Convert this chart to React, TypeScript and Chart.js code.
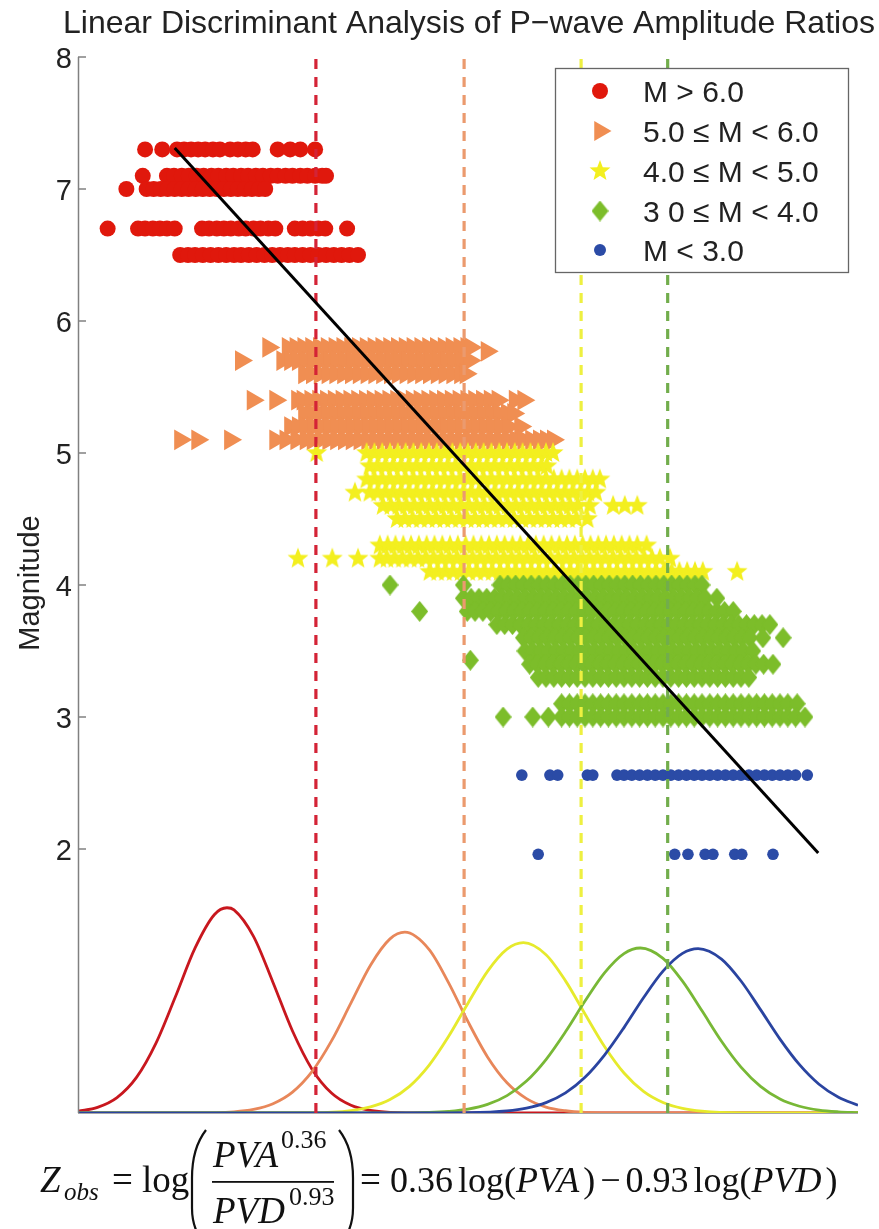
import React, { useEffect, useRef } from 'react';
import { Chart, registerables } from 'chart.js';

Chart.register(...registerables);

const W = 879;
const H = 1229;

const chartTitle = 'Linear Discriminant Analysis of P\u2212wave Amplitude Ratios';
const yAxisTitle = 'Magnitude';
const magnitudeTicks = [2, 3, 4, 5, 6, 7, 8];
const classLabels = ['M > 6.0', '5.0 \u2264 M < 6.0', '4.0 \u2264 M < 5.0', '3 0 \u2264 M < 4.0', 'M < 3.0'];

// Scatter rows: magnitude m, discriminant scores z
const redRows = [
  { m: 7.3, z: [0.86, 1.08, 1.27, 1.36, 1.45, 1.54, 1.63, 1.73, 1.82, 1.95, 2.05, 2.15, 2.24, 2.56, 2.72, 2.85, 3.04] },
  { m: 7.1, z: [0.83, 1.14, 1.23, 1.33, 1.42, 1.52, 1.61, 1.71, 1.8, 1.9, 1.99, 2.09, 2.18, 2.28, 2.37, 2.47, 2.56, 2.66, 2.75, 2.85, 2.94, 3.04, 3.13, 3.18] },
  { m: 7.0, z: [0.62, 0.88, 0.97, 1.06, 1.15, 1.24, 1.33, 1.42, 1.51, 1.6, 1.69, 1.78, 1.87, 1.96, 2.05, 2.14, 2.23, 2.32, 2.4] },
  { m: 6.7, z: [0.38, 0.77, 0.86, 0.96, 1.05, 1.14, 1.24, 1.59, 1.68, 1.78, 1.87, 1.96, 2.06, 2.15, 2.25, 2.34, 2.44, 2.53, 2.78, 2.88, 2.98, 3.08, 3.17, 3.45] },
  { m: 6.5, z: [1.31, 1.41, 1.5, 1.6, 1.7, 1.8, 1.9, 2.0, 2.09, 2.19, 2.29, 2.39, 2.49, 2.59, 2.69, 2.78, 2.88, 2.98, 3.08, 3.18, 3.28, 3.38, 3.48, 3.59] },
];

const orangeRows = [
  { m: 5.8, z: [2.44, 2.69, 2.79, 2.89, 2.99, 3.09, 3.19, 3.29, 3.39, 3.49, 3.59, 3.69, 3.79, 3.89, 3.99, 4.09, 4.19, 4.29, 4.39, 4.49, 4.59, 4.69, 4.79, 4.89, 4.98, 5.03] },
  { m: 5.77, z: [5.24] },
  { m: 5.7, z: [2.09, 2.62, 2.72, 2.82, 2.92, 3.02, 3.12, 3.22, 3.32, 3.42, 3.52, 3.62, 3.72, 3.82, 3.92, 4.02, 4.12, 4.22, 4.32, 4.42, 4.52, 4.62, 4.72, 4.82, 4.92, 5.02] },
  { m: 5.6, z: [2.9, 3.0, 3.1, 3.2, 3.3, 3.4, 3.5, 3.6, 3.7, 3.8, 3.9, 4.0, 4.1, 4.2, 4.3, 4.4, 4.5, 4.6, 4.7, 4.8, 4.9, 4.97] },
  { m: 5.4, z: [2.24, 2.53, 2.81, 2.88, 2.98, 3.08, 3.18, 3.28, 3.38, 3.48, 3.58, 3.68, 3.78, 3.88, 3.98, 4.08, 4.18, 4.28, 4.38, 4.48, 4.58, 4.68, 4.78, 4.88, 4.98, 5.08, 5.18, 5.28, 5.38, 5.6, 5.71] },
  { m: 5.3, z: [2.9, 3.0, 3.1, 3.2, 3.3, 3.4, 3.5, 3.6, 3.7, 3.8, 3.9, 4.0, 4.1, 4.2, 4.3, 4.4, 4.5, 4.6, 4.7, 4.8, 4.9, 5.0, 5.1, 5.2, 5.3, 5.4, 5.5, 5.58] },
  { m: 5.2, z: [2.72, 2.82, 2.92, 3.02, 3.12, 3.22, 3.32, 3.42, 3.52, 3.62, 3.72, 3.82, 3.92, 4.02, 4.12, 4.22, 4.32, 4.42, 4.52, 4.62, 4.72, 4.82, 4.92, 5.02, 5.12, 5.22, 5.32, 5.42, 5.52, 5.67] },
  { m: 5.1, z: [1.31, 1.53, 1.95, 2.53, 2.66, 2.8, 2.92, 3.01, 3.11, 3.21, 3.31, 3.41, 3.51, 3.61, 3.71, 3.81, 3.91, 4.01, 4.11, 4.21, 4.31, 4.41, 4.51, 4.61, 4.71, 4.81, 4.91, 5.01, 5.11, 5.21, 5.31, 5.41, 5.51, 5.61, 5.71, 5.81, 5.91, 6.0, 6.09] },
];

const yellowRows = [
  { m: 5.0, z: [3.06, 3.7, 3.8, 3.9, 4.0, 4.1, 4.2, 4.3, 4.4, 4.5, 4.6, 4.7, 4.8, 4.9, 5.0, 5.1, 5.2, 5.3, 5.4, 5.5, 5.6, 5.7, 5.8, 5.9, 6.0, 6.09] },
  { m: 4.9, z: [3.74, 3.84, 3.94, 4.04, 4.14, 4.24, 4.34, 4.44, 4.54, 4.64, 4.74, 4.84, 4.94, 5.04, 5.14, 5.24, 5.34, 5.44, 5.54, 5.64, 5.74, 5.84, 5.94, 6.01] },
  { m: 4.8, z: [3.7, 3.8, 3.9, 4.0, 4.1, 4.2, 4.3, 4.4, 4.5, 4.6, 4.7, 4.8, 4.9, 5.0, 5.1, 5.2, 5.3, 5.4, 5.5, 5.6, 5.7, 5.8, 5.9, 6.0, 6.1, 6.2, 6.3, 6.4, 6.5, 6.6, 6.69] },
  { m: 4.7, z: [3.55, 3.74, 3.84, 3.94, 4.04, 4.14, 4.24, 4.34, 4.44, 4.54, 4.64, 4.74, 4.84, 4.94, 5.04, 5.14, 5.24, 5.34, 5.44, 5.54, 5.64, 5.74, 5.84, 5.94, 6.04, 6.14, 6.24, 6.34, 6.44, 6.54, 6.64] },
  { m: 4.6, z: [3.91, 4.01, 4.11, 4.21, 4.31, 4.41, 4.51, 4.61, 4.71, 4.81, 4.91, 5.01, 5.11, 5.21, 5.31, 5.41, 5.51, 5.61, 5.71, 5.81, 5.91, 6.01, 6.11, 6.21, 6.31, 6.41, 6.56, 6.86, 7.01, 7.17] },
  { m: 4.5, z: [4.09, 4.19, 4.29, 4.39, 4.49, 4.59, 4.69, 4.79, 4.89, 4.99, 5.09, 5.19, 5.29, 5.39, 5.49, 5.59, 5.69, 5.79, 5.89, 5.99, 6.09, 6.19, 6.29, 6.39, 6.53] },
  { m: 4.3, z: [3.87, 3.97, 4.07, 4.17, 4.27, 4.37, 4.47, 4.57, 4.67, 4.77, 4.87, 4.97, 5.07, 5.17, 5.27, 5.37, 5.47, 5.57, 5.67, 5.77, 5.87, 5.97, 6.07, 6.17, 6.27, 6.37, 6.47, 6.57, 6.67, 6.77, 6.87, 6.97, 7.07, 7.17, 7.29] },
  { m: 4.2, z: [2.82, 3.26, 3.59, 3.87, 3.96, 4.06, 4.16, 4.26, 4.36, 4.46, 4.56, 4.66, 4.76, 4.86, 4.96, 5.06, 5.16, 5.26, 5.36, 5.46, 5.56, 5.66, 5.76, 5.86, 5.96, 6.06, 6.16, 6.26, 6.36, 6.46, 6.56, 6.66, 6.76, 6.86, 6.96, 7.06, 7.16, 7.26, 7.36, 7.46, 7.59] },
  { m: 4.1, z: [4.51, 4.61, 4.71, 4.81, 4.91, 5.01, 5.11, 5.21, 5.31, 5.41, 5.51, 5.61, 5.71, 5.81, 5.91, 6.01, 6.11, 6.21, 6.31, 6.41, 6.51, 6.61, 6.71, 6.81, 6.91, 7.01, 7.11, 7.21, 7.31, 7.41, 7.51, 7.61, 7.71, 7.81, 7.91, 8.01, 8.45] },
];

const greenRows = [
  { m: 4.0, z: [4.0, 4.94, 5.41, 5.51, 5.61, 5.71, 5.81, 5.91, 6.01, 6.11, 6.21, 6.31, 6.41, 6.51, 6.61, 6.71, 6.81, 6.91, 7.01, 7.11, 7.21, 7.31, 7.41, 7.51, 7.61, 7.71, 7.81, 7.91, 8.0] },
  { m: 3.9, z: [4.94, 5.04, 5.14, 5.24, 5.34, 5.44, 5.54, 5.64, 5.74, 5.84, 5.94, 6.04, 6.14, 6.24, 6.34, 6.44, 6.54, 6.64, 6.74, 6.84, 6.94, 7.04, 7.14, 7.24, 7.34, 7.44, 7.54, 7.64, 7.74, 7.84, 7.94, 8.04, 8.19] },
  { m: 3.8, z: [4.38, 4.99, 5.09, 5.19, 5.29, 5.39, 5.49, 5.59, 5.69, 5.79, 5.89, 5.99, 6.09, 6.19, 6.29, 6.39, 6.49, 6.59, 6.69, 6.79, 6.89, 6.99, 7.09, 7.19, 7.29, 7.39, 7.49, 7.59, 7.69, 7.79, 7.89, 7.99, 8.09, 8.19, 8.29, 8.4] },
  { m: 3.7, z: [5.37, 5.47, 5.57, 5.67, 5.77, 5.87, 5.97, 6.07, 6.17, 6.27, 6.37, 6.47, 6.57, 6.67, 6.77, 6.87, 6.97, 7.07, 7.17, 7.27, 7.37, 7.47, 7.57, 7.67, 7.77, 7.87, 7.97, 8.07, 8.17, 8.27, 8.37, 8.47, 8.57, 8.67, 8.77, 8.87] },
  { m: 3.6, z: [5.71, 5.81, 5.91, 6.01, 6.11, 6.21, 6.31, 6.41, 6.51, 6.61, 6.71, 6.81, 6.91, 7.01, 7.11, 7.21, 7.31, 7.41, 7.51, 7.61, 7.71, 7.81, 7.91, 8.01, 8.11, 8.21, 8.31, 8.41, 8.51, 8.61, 8.78, 9.04] },
  { m: 3.5, z: [5.73, 5.83, 5.93, 6.03, 6.13, 6.23, 6.33, 6.43, 6.53, 6.63, 6.73, 6.83, 6.93, 7.03, 7.13, 7.23, 7.33, 7.43, 7.53, 7.63, 7.73, 7.83, 7.93, 8.03, 8.13, 8.23, 8.33, 8.43, 8.53, 8.65] },
  { m: 3.43, z: [5.03] },
  { m: 3.4, z: [5.79, 5.89, 5.99, 6.09, 6.19, 6.29, 6.39, 6.49, 6.59, 6.69, 6.79, 6.89, 6.99, 7.09, 7.19, 7.29, 7.39, 7.49, 7.59, 7.69, 7.79, 7.89, 7.99, 8.09, 8.19, 8.29, 8.39, 8.49, 8.59, 8.69, 8.79, 8.91] },
  { m: 3.3, z: [5.9, 6.0, 6.1, 6.2, 6.3, 6.4, 6.5, 6.6, 6.7, 6.8, 6.9, 7.0, 7.1, 7.2, 7.3, 7.4, 7.5, 7.6, 7.7, 7.8, 7.9, 8.0, 8.1, 8.2, 8.3, 8.4, 8.5, 8.6] },
  { m: 3.1, z: [6.2, 6.3, 6.4, 6.5, 6.6, 6.7, 6.8, 6.9, 7.0, 7.1, 7.2, 7.3, 7.4, 7.5, 7.6, 7.7, 7.8, 7.9, 8.0, 8.1, 8.2, 8.3, 8.4, 8.5, 8.6, 8.7, 8.8, 8.9, 9.0, 9.1, 9.22] },
  { m: 3.0, z: [5.45, 5.83, 6.03, 6.2, 6.3, 6.4, 6.5, 6.6, 6.7, 6.8, 6.9, 7.0, 7.1, 7.2, 7.3, 7.4, 7.5, 7.6, 7.7, 7.8, 7.9, 8.0, 8.1, 8.2, 8.3, 8.4, 8.5, 8.6, 8.7, 8.8, 8.9, 9.0, 9.1, 9.2, 9.32] },
];

const blueRows = [
  { m: 2.56, z: [5.69, 6.05, 6.15, 6.53, 6.6, 6.91, 7.0, 7.1, 7.2, 7.3, 7.4, 7.5, 7.6, 7.7, 7.8, 7.9, 8.0, 8.1, 8.2, 8.3, 8.4, 8.5, 8.6, 8.7, 8.8, 8.9, 9.0, 9.1, 9.2, 9.35] },
  { m: 1.96, z: [5.9, 7.65, 7.82, 8.04, 8.14, 8.42, 8.51, 8.91] },
];

// Class density curves (score z, height)
const redCurveZ = [0, 0.25, 0.5, 0.75, 1, 1.25, 1.5, 1.75, 1.91, 2, 2.25, 2.5, 2.75, 3, 3.25, 3.5, 3.75, 4, 4.5, 10];
const redCurveH = [0.014, 0.043, 0.117, 0.27, 0.53, 0.883, 1.249, 1.504, 1.555, 1.539, 1.338, 0.989, 0.621, 0.332, 0.151, 0.058, 0.019, 0.005, 0, 0];
const orangeCurveZ = [0, 1.5, 2, 2.25, 2.5, 2.75, 3, 3.25, 3.5, 3.75, 4, 4.19, 4.5, 4.75, 5, 5.25, 5.5, 5.75, 6, 6.25, 6.5, 7, 10];
const orangeCurveH = [0, 0, 0.009, 0.027, 0.07, 0.158, 0.313, 0.546, 0.834, 1.12, 1.319, 1.37, 1.24, 0.988, 0.692, 0.425, 0.229, 0.109, 0.045, 0.017, 0.005, 0, 0];
const yellowCurveZ = [0, 3, 3.5, 3.75, 4, 4.25, 4.5, 4.75, 5, 5.25, 5.5, 5.71, 6, 6.25, 6.5, 6.75, 7, 7.25, 7.5, 7.75, 8, 8.5, 9, 10];
const yellowCurveH = [0, 0.002, 0.018, 0.046, 0.102, 0.202, 0.361, 0.579, 0.832, 1.073, 1.241, 1.29, 1.199, 1.001, 0.75, 0.504, 0.303, 0.164, 0.08, 0.035, 0.014, 0.001, 0, 0];
const greenCurveZ = [0, 4, 4.5, 4.75, 5, 5.25, 5.5, 5.75, 6, 6.25, 6.5, 6.75, 7, 7.21, 7.5, 7.75, 8, 8.25, 8.5, 8.75, 9, 9.25, 9.5, 9.75, 10];
const greenCurveH = [0, 0, 0.004, 0.012, 0.029, 0.065, 0.132, 0.242, 0.405, 0.615, 0.848, 1.062, 1.208, 1.25, 1.172, 0.999, 0.774, 0.544, 0.348, 0.202, 0.106, 0.051, 0.022, 0.009, 0.003];
const blueCurveZ = [0, 4.5, 5, 5.5, 5.75, 6, 6.25, 6.5, 6.75, 7, 7.25, 7.5, 7.75, 7.95, 8.25, 8.5, 8.75, 9, 9.25, 9.5, 9.75, 10];
const blueCurveH = [0, 0, 0.002, 0.016, 0.037, 0.079, 0.153, 0.271, 0.439, 0.647, 0.873, 1.075, 1.209, 1.245, 1.166, 1.0, 0.783, 0.56, 0.366, 0.218, 0.119, 0.059];

// Decision boundaries and regression line
const boundaryZ = [3.05, 4.95, 6.45, 7.56];
const fitZ = [1.24, 9.49];
const fitM = [7.31, 1.97];

const pointColors = ['#e0180c', '#f08e52', '#f3ef1f', '#7cbd2a', '#2b4ba6'];
const curveColors = ['#c8171e', '#e8875a', '#e6ea2c', '#78b836', '#2a44a0'];
const boundaryColors = ['#d42336', '#eb9a6e', '#eef040', '#72ad4c'];

function makeStar(color: string, R: number, r: number) {
  const c = document.createElement('canvas');
  const s = Math.ceil(2 * R + 2);
  c.width = s; c.height = s;
  const g = c.getContext('2d')!;
  g.fillStyle = color;
  g.beginPath();
  for (let i = 0; i < 10; i++) {
    const ang = -Math.PI / 2 + (i * Math.PI) / 5;
    const rad = i % 2 === 0 ? R : r;
    const px = s / 2 + rad * Math.cos(ang);
    const py = s / 2 + rad * Math.sin(ang);
    if (i === 0) g.moveTo(px, py); else g.lineTo(px, py);
  }
  g.closePath();
  g.fill();
  return c;
}

function makeDiamond(color: string, w: number, h: number) {
  const c = document.createElement('canvas');
  c.width = w; c.height = h;
  const g = c.getContext('2d')!;
  g.fillStyle = color;
  g.beginPath();
  g.moveTo(w / 2, 0); g.lineTo(w, h / 2); g.lineTo(w / 2, h); g.lineTo(0, h / 2);
  g.closePath();
  g.fill();
  return c;
}

const rowsToPoints = (rows: { m: number; z: number[] }[]) => rows.flatMap((r) => r.z.map((z) => ({ x: z, y: r.m })));
const curvePoints = (zs: number[], hs: number[]) => zs.map((z, i) => ({ x: z, y: hs[i] }));

export default function App() {
  const ref = useRef<HTMLCanvasElement | null>(null);

  useEffect(() => {
    if (!ref.current) return;
    const star = makeStar(pointColors[2], 11, 4.7);
    const diamond = makeDiamond(pointColors[3], 17, 21);
    const SANS = '"Liberation Sans", Arial, Helvetica, sans-serif';
    const SERIF = '"Liberation Serif", "Times New Roman", serif';

    const decor = {
      id: 'decor',
      beforeDatasetsDraw(chart: any) {
        const { ctx, chartArea: a } = chart;
        ctx.save();
        ctx.strokeStyle = '#8a8a8a';
        ctx.lineWidth = 1.5;
        ctx.beginPath();
        ctx.moveTo(a.left, a.bottom);
        ctx.lineTo(a.right, a.bottom);
        ctx.stroke();
        ctx.restore();
      },
      afterDraw(chart: any) {
        const { ctx, chartArea: a } = chart;
        const ys = chart.scales.y;
        ctx.save();
        // y axis line
        ctx.strokeStyle = '#808080';
        ctx.lineWidth = 1.5;
        ctx.beginPath();
        ctx.moveTo(a.left + 0.5, a.top);
        ctx.lineTo(a.left + 0.5, a.bottom);
        ctx.stroke();
        // ticks and labels
        ctx.fillStyle = '#222';
        ctx.font = '29px ' + SANS;
        ctx.textAlign = 'right';
        ctx.textBaseline = 'alphabetic';
        magnitudeTicks.forEach((v) => {
          const y = ys.getPixelForValue(v);
          ctx.beginPath();
          ctx.moveTo(a.left, y);
          ctx.lineTo(a.left + 8, y);
          ctx.stroke();
          ctx.fillText(String(v), a.left - 6, y + 10.5);
        });
        // y axis title
        ctx.save();
        ctx.translate(39, 583);
        ctx.rotate(-Math.PI / 2);
        ctx.textAlign = 'center';
        ctx.font = '29px ' + SANS;
        ctx.fillText(yAxisTitle, 0, 0);
        ctx.restore();
        // title
        ctx.textAlign = 'center';
        ctx.font = '32px ' + SANS;
        ctx.fillText(chartTitle, 469, 33);

        // legend
        const lx = 555, ly = 68, lw = 293, lh = 204;
        ctx.fillStyle = '#fff';
        ctx.fillRect(lx, ly, lw, lh);
        ctx.strokeStyle = '#666';
        ctx.lineWidth = 1.3;
        ctx.strokeRect(lx + 0.5, ly + 0.5, lw, lh);
        const rowsY = [91, 131, 171, 211, 250];
        const mx = 600;
        ctx.fillStyle = pointColors[0];
        ctx.beginPath(); ctx.arc(mx, rowsY[0], 8, 0, Math.PI * 2); ctx.fill();
        ctx.fillStyle = pointColors[1];
        const tr = 11.5;
        ctx.beginPath();
        ctx.moveTo(mx + tr, rowsY[1]);
        ctx.lineTo(mx - tr / 2, rowsY[1] - tr * 0.866);
        ctx.lineTo(mx - tr / 2, rowsY[1] + tr * 0.866);
        ctx.closePath(); ctx.fill();
        ctx.drawImage(star, mx - star.width / 2, rowsY[2] - star.height / 2);
        ctx.drawImage(diamond, mx - diamond.width / 2, rowsY[3] - diamond.height / 2);
        ctx.fillStyle = pointColors[4];
        ctx.beginPath(); ctx.arc(mx, rowsY[4], 6, 0, Math.PI * 2); ctx.fill();
        ctx.fillStyle = '#222';
        ctx.textAlign = 'left';
        ctx.font = '30px ' + SANS;
        classLabels.forEach((t, i) => ctx.fillText(t, 643, rowsY[i] + 10.5));

        // formula
        ctx.fillStyle = '#111';
        ctx.strokeStyle = '#111';
        const base = 1192;
        const it = (s: number) => 'italic ' + s + 'px ' + SERIF;
        const rg = (s: number) => s + 'px ' + SERIF;
        ctx.font = it(37); ctx.fillText('Z', 40, base);
        ctx.font = it(25); ctx.fillText('obs', 64, base + 8);
        ctx.font = rg(37); ctx.fillText('=', 112, base);
        ctx.fillText('log', 142, base);
        ctx.lineWidth = 2.2;
        ctx.beginPath();
        ctx.moveTo(206, 1130);
        ctx.quadraticCurveTo(192, 1148, 192, 1178);
        ctx.lineTo(192, 1208);
        ctx.quadraticCurveTo(192, 1228, 203, 1242);
        ctx.stroke();
        ctx.beginPath();
        ctx.moveTo(339, 1130);
        ctx.quadraticCurveTo(353, 1148, 353, 1178);
        ctx.lineTo(353, 1208);
        ctx.quadraticCurveTo(353, 1228, 342, 1242);
        ctx.stroke();
        ctx.font = it(37); ctx.fillText('PVA', 213, 1167);
        ctx.font = rg(26); ctx.fillText('0.36', 281, 1148);
        ctx.fillRect(212, 1181, 122, 1.8);
        ctx.font = it(37); ctx.fillText('PVD', 213, 1223);
        ctx.font = rg(26); ctx.fillText('0.93', 289, 1205);
        // right-hand side, laid out sequentially
        ctx.font = rg(37);
        ctx.fillText('=', 360, base);
        const parts: [string, boolean, number][] = [
          ['0.36', false, 5], ['log(', false, 0], ['PVA', true, 4], [')', false, 5],
          ['\u2212', false, 5], ['0.93', false, 5], ['log(', false, 0], ['PVD', true, 4], [')', false, 0],
        ];
        let x = 390;
        parts.forEach(([t, ital, gap]) => {
          ctx.font = ital ? it(36) : rg(36);
          ctx.fillText(t, x, base);
          x += ctx.measureText(t).width + gap;
        });
        ctx.restore();
      },
    };

    const curveSets = [
      [redCurveZ, redCurveH],
      [orangeCurveZ, orangeCurveH],
      [yellowCurveZ, yellowCurveH],
      [greenCurveZ, greenCurveH],
      [blueCurveZ, blueCurveH],
    ];

    const datasets: any[] = [];
    datasets.push({
      type: 'line',
      data: fitZ.map((z, i) => ({ x: z, y: fitM[i] })),
      borderColor: '#000',
      borderWidth: 3,
      pointRadius: 0,
      order: 0,
    });
    boundaryZ.forEach((b, i) => {
      datasets.push({
        type: 'line',
        data: [{ x: b, y: 0 }, { x: b, y: 8 }],
        borderColor: boundaryColors[i],
        borderWidth: 3.2,
        borderDash: [10, 8],
        pointRadius: 0,
        order: 1,
      });
    });
    curveSets.forEach(([zs, hs], i) => {
      datasets.push({
        type: 'line',
        data: curvePoints(zs as number[], hs as number[]),
        borderColor: curveColors[i],
        borderWidth: 2.8,
        pointRadius: 0,
        cubicInterpolationMode: 'monotone',
        order: 6 - i,
      });
    });
    const scatterDefs = [
      { rows: redRows, style: 'circle', radius: 8, rot: 0 },
      { rows: orangeRows, style: 'triangle', radius: 12, rot: 90 },
      { rows: yellowRows, style: star, radius: 10, rot: 0 },
      { rows: greenRows, style: diamond, radius: 10, rot: 0 },
      { rows: blueRows, style: 'circle', radius: 5.8, rot: 0 },
    ];
    scatterDefs.forEach((d, i) => {
      datasets.push({
        type: 'scatter',
        data: rowsToPoints(d.rows),
        pointStyle: d.style,
        pointRadius: d.radius,
        pointRotation: d.rot,
        pointBackgroundColor: pointColors[i],
        pointBorderColor: pointColors[i],
        pointBorderWidth: 0,
        order: 11 - i,
      });
    });

    const chart = new Chart(ref.current, {
      type: 'scatter',
      data: { datasets },
      options: {
        animation: false,
        responsive: false,
        devicePixelRatio: 1,
        layout: { padding: { left: 78, right: 21, top: 57, bottom: 116 } },
        plugins: { legend: { display: false }, tooltip: { enabled: false }, title: { display: false } },
        scales: {
          x: { type: 'linear', min: 0, max: 10, display: false },
          y: { type: 'linear', min: 0, max: 8, display: false },
        },
        events: [],
      },
      plugins: [decor],
    } as any);
    return () => chart.destroy();
  }, []);

  return (
    <div style={{ position: 'absolute', left: 0, top: 0, width: W, height: H, background: '#fff' }}>
      <canvas ref={ref} width={W} height={H} style={{ display: 'block', width: W, height: H }} />
    </div>
  );
}
